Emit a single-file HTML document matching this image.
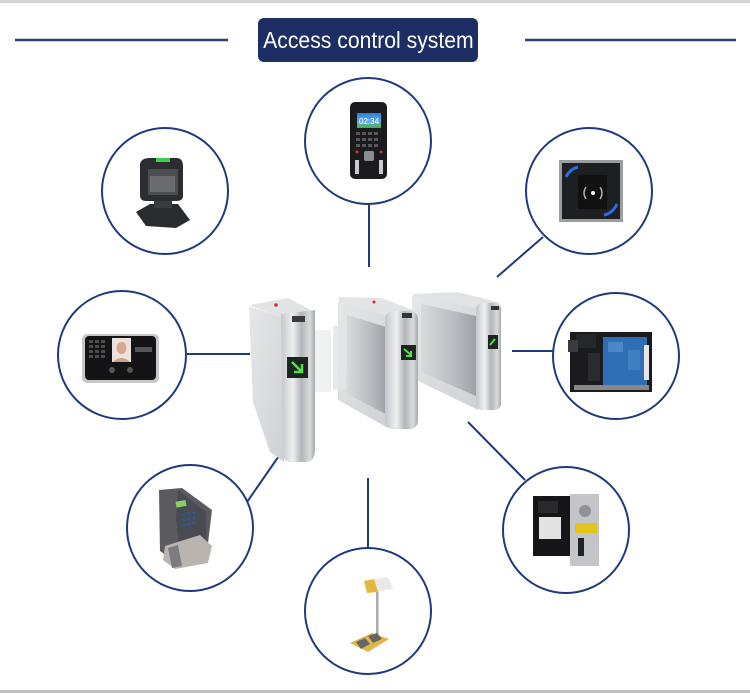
<!DOCTYPE html>
<html><head><meta charset="utf-8">
<style>
html,body{margin:0;padding:0;background:#fff;}
body{width:750px;height:693px;overflow:hidden;position:relative;font-family:"Liberation Sans",Arial,sans-serif;}
svg{position:absolute;left:0;top:0;}
.title{position:absolute;left:258px;top:18px;width:220px;height:44px;background:#1c2e63;border-radius:6px;color:#fff;font-size:23px;line-height:44px;text-align:center;white-space:nowrap;overflow:hidden;}
.title span{display:inline-block;transform:scaleX(0.92);transform-origin:center;margin-left:-20px;margin-right:-20px;}
</style></head><body>
<svg width="750" height="693" viewBox="0 0 750 693" xmlns="http://www.w3.org/2000/svg">
<defs>
<linearGradient id="pil" x1="0" x2="1" y1="0" y2="0">
<stop offset="0" stop-color="#c4c7cb"/><stop offset="0.35" stop-color="#eef0f1"/><stop offset="0.6" stop-color="#b2b5b9"/><stop offset="0.85" stop-color="#d9dadc"/><stop offset="1" stop-color="#a5a8ad"/>
</linearGradient>
<linearGradient id="side" x1="0" x2="1" y1="0" y2="1">
<stop offset="0" stop-color="#e6e7e9"/><stop offset="1" stop-color="#cfd1d4"/>
</linearGradient>
<linearGradient id="inner" x1="0" x2="1" y1="0" y2="0">
<stop offset="0" stop-color="#d8dadc"/><stop offset="0.6" stop-color="#b9bcc0"/><stop offset="1" stop-color="#9ea2a7"/>
</linearGradient>
<linearGradient id="scr" x1="0" x2="0" y1="0" y2="1">
<stop offset="0" stop-color="#2a7fd8"/><stop offset="0.6" stop-color="#5fb0e8"/><stop offset="1" stop-color="#4caf3a"/>
</linearGradient>
</defs>
<!-- page borders -->
<rect x="0" y="0" width="750" height="3" fill="#d4d4d4"/>
<rect x="0" y="690" width="750" height="3" fill="#bdbdbd"/>
<!-- header lines -->
<line x1="15" y1="40" x2="228" y2="40" stroke="#2b3f77" stroke-width="2.5"/>
<line x1="525" y1="40" x2="736" y2="40" stroke="#2b3f77" stroke-width="2.5"/>

<g stroke="#1f3a7c" stroke-width="2" fill="none">
<!-- connectors -->
<line x1="369" y1="205" x2="369" y2="267"/>
<line x1="497" y1="277" x2="543" y2="237"/>
<line x1="187" y1="354" x2="250" y2="354"/>
<line x1="512" y1="351" x2="553" y2="351"/>
<line x1="247" y1="502" x2="281" y2="453"/>
<line x1="468" y1="422" x2="525" y2="480"/>
<line x1="368" y1="478" x2="368" y2="549"/>
<!-- circles -->
<circle cx="368" cy="141" r="63"/>
<circle cx="165" cy="191" r="63"/>
<circle cx="589" cy="191" r="63"/>
<circle cx="122" cy="355" r="64"/>
<circle cx="616" cy="356" r="63"/>
<circle cx="190" cy="528" r="63"/>
<circle cx="566" cy="530" r="63"/>
<circle cx="368" cy="611" r="63"/>
</g>

<!-- C1 keypad reader -->
<rect x="350" y="102" width="37" height="77" rx="5" fill="#1b1b1d"/>
<rect x="357" y="113" width="24" height="15" fill="url(#scr)"/>
<text x="359" y="124" font-size="8" fill="#fff" font-family="Liberation Sans">02:34</text>
<g fill="#55585d">
<rect x="356" y="132" width="4" height="3"/><rect x="362" y="132" width="4" height="3"/><rect x="368" y="132" width="4" height="3"/><rect x="374" y="132" width="4" height="3"/>
<rect x="356" y="138" width="4" height="3"/><rect x="362" y="138" width="4" height="3"/><rect x="368" y="138" width="4" height="3"/><rect x="374" y="138" width="4" height="3"/>
<rect x="356" y="144" width="4" height="3"/><rect x="362" y="144" width="4" height="3"/><rect x="368" y="144" width="4" height="3"/><rect x="374" y="144" width="4" height="3"/>
</g>
<rect x="364" y="151" width="10" height="10" rx="2" fill="#8a8d90"/>
<rect x="355" y="160" width="4" height="14" fill="#c9cbcd"/>
<rect x="379" y="160" width="4" height="14" fill="#c9cbcd"/>
<circle cx="357" cy="152" r="1.5" fill="#d33"/><circle cx="381" cy="152" r="1.5" fill="#d33"/>

<!-- C2 barcode scanner -->
<path d="M136 212 L150 204 L178 204 L190 220 L176 228 L146 226 Z" fill="#2a2b2e"/>
<rect x="154" y="196" width="18" height="12" fill="#3a3b3e"/>
<path d="M140 164 Q141 158 150 158 L176 158 Q183 158 183 166 L183 196 Q183 201 176 201 L146 201 Q140 201 140 195 Z" fill="#2c2d30"/>
<rect x="156" y="158" width="14" height="4" fill="#3ad04a"/>
<rect x="148" y="169" width="30" height="26" fill="#4b4d51"/>
<rect x="150" y="176" width="25" height="16" fill="#6a6c70"/>

<!-- C3 RFID reader -->
<rect x="559" y="160" width="64" height="62" fill="#9c9d9f"/>
<rect x="562" y="163" width="58" height="56" fill="#1e1f22"/>
<rect x="578" y="175" width="29" height="34" fill="#111"/>
<circle cx="593" cy="193" r="2" fill="#fff"/>
<path d="M586 187 Q582 193 586 199 M600 187 Q604 193 600 199" stroke="#aaa" stroke-width="1.5" fill="none"/>
<path d="M566 177 Q570 169 578 167" stroke="#2c6be0" stroke-width="3" fill="none"/>
<path d="M617 204 Q613 213 604 215" stroke="#2c6be0" stroke-width="3" fill="none"/>

<!-- C4 face device -->
<rect x="82" y="334" width="77" height="49" rx="5" fill="#c6c8ca"/>
<rect x="85" y="336" width="71" height="44" rx="4" fill="#141416"/>
<rect x="112" y="338" width="19" height="24" fill="#e9e2dc"/>
<ellipse cx="121.5" cy="348" rx="5" ry="6" fill="#d7a88e"/>
<path d="M113 362 Q121 354 130 362 Z" fill="#caa08a"/>
<g fill="#4a4c50">
<rect x="89" y="340" width="4" height="3"/><rect x="95" y="340" width="4" height="3"/><rect x="101" y="340" width="4" height="3"/>
<rect x="89" y="345" width="4" height="3"/><rect x="95" y="345" width="4" height="3"/><rect x="101" y="345" width="4" height="3"/>
<rect x="89" y="350" width="4" height="3"/><rect x="95" y="350" width="4" height="3"/><rect x="101" y="350" width="4" height="3"/>
<rect x="89" y="355" width="4" height="3"/><rect x="95" y="355" width="4" height="3"/><rect x="101" y="355" width="4" height="3"/>
</g>
<rect x="135" y="347" width="17" height="5" fill="#555"/>
<circle cx="112" cy="370" r="3" fill="#555"/><circle cx="130" cy="370" r="3" fill="#555"/>

<!-- C5 bill acceptor -->
<rect x="570" y="332" width="82" height="60" fill="#1a1b1e"/>
<rect x="576" y="334" width="20" height="14" fill="#26272a"/>
<rect x="603" y="337" width="44" height="48" fill="#2f6db5"/>
<rect x="608" y="342" width="15" height="10" fill="#4a88c8"/>
<rect x="628" y="350" width="12" height="20" fill="#3f7fc0"/>
<rect x="644" y="345" width="5" height="35" fill="#e6e6e6"/>
<rect x="588" y="353" width="12" height="28" fill="#2a2b2e"/>
<rect x="568" y="340" width="10" height="12" fill="#3a3b3f"/>
<rect x="574" y="385" width="75" height="5" fill="#888"/>

<!-- C6 hand reader -->
<path d="M159 490 L182 488 L212 510 L208 543 L170 558 L160 551 Z" fill="#5a5a60"/>
<path d="M178 490 L206 512 L206 546 L180 554 L176 518 Z" fill="#4a4b52"/>
<rect x="176" y="501" width="10" height="6" fill="#8fcf6a" transform="rotate(-10 180 504)"/>
<g fill="#2e55a0">
<circle cx="184" cy="515" r="1.5"/><circle cx="189" cy="514" r="1.5"/><circle cx="194" cy="513" r="1.5"/>
<circle cx="184" cy="520" r="1.5"/><circle cx="189" cy="519" r="1.5"/><circle cx="194" cy="518" r="1.5"/>
<circle cx="184" cy="525" r="1.5"/><circle cx="189" cy="524" r="1.5"/><circle cx="194" cy="523" r="1.5"/>
</g>
<path d="M165 546 L200 535 L212 546 L208 563 L175 569 L163 560 Z" fill="#b9b4b0"/>
<path d="M168 548 L178 545 L182 566 L172 568 Z" fill="#7b7b80"/>

<!-- C7 coin acceptor -->
<rect x="533" y="496" width="38" height="60" fill="#161618"/>
<rect x="539" y="517" width="22" height="22" fill="#e2e2e2"/>
<rect x="538" y="501" width="20" height="12" fill="#2a2a2d"/>
<rect x="570" y="494" width="29" height="72" fill="#c3c5c8"/>
<circle cx="585" cy="511" r="6" fill="#8d9094"/>
<rect x="575" y="523" width="22" height="10" fill="#e3c41c"/>
<rect x="578" y="538" width="6" height="18" fill="#222"/>

<!-- C8 stand -->
<path d="M364 581 L388 577 L393 589 L367 593 Z" fill="#e9e9ea"/>
<path d="M364 581 L374 579 L378 592 L367 593 Z" fill="#e2b93a"/>
<rect x="376" y="592" width="2.5" height="45" fill="#a9abad"/>
<path d="M350 643 L372 633 L389 639 L368 652 Z" fill="#e0b84a"/>
<path d="M356 642 L365 638 L370 644 L361 649 Z" fill="#666"/>
<path d="M368 636 L377 633 L382 639 L373 643 Z" fill="#666"/>

<!-- Turnstiles -->
<!-- right unit -->
<polygon points="412,294 458,292 501,303 478,308 418,300" fill="#e2e3e5"/>
<polygon points="412,296 478,308 478,410 412,378" fill="url(#side)"/>
<polygon points="421,304 476,316 476,396 421,372" fill="url(#inner)"/>
<rect x="476" y="303" width="25" height="107" rx="6" fill="url(#pil)"/>
<rect x="488" y="335" width="10" height="14" fill="#1d2520"/>
<path d="M490 345 L495 339" stroke="#4fe04a" stroke-width="2"/>
<rect x="491" y="306" width="8" height="4" fill="#333"/>
<!-- middle unit -->
<polygon points="338,297 382,298 418,312 388,316 340,305" fill="#e3e4e6"/>
<polygon points="338,302 388,316 388,428 338,400" fill="url(#side)"/>
<polygon points="347,315 386,327 386,414 347,394" fill="url(#inner)"/>
<rect x="385" y="311" width="33" height="118" rx="8" fill="url(#pil)"/>
<rect x="401" y="345" width="15" height="15" fill="#1d2520"/>
<path d="M404 349 L411 355 M411 351 L411 356 L406 356" stroke="#4fe04a" stroke-width="2" fill="none"/>
<rect x="402" y="313" width="10" height="5" fill="#333"/>
<circle cx="374" cy="302" r="1.5" fill="#c33"/>
<!-- glass panels -->
<rect x="314" y="330" width="17" height="62" fill="#eceded" opacity="0.85"/>
<rect x="333" y="326" width="13" height="64" fill="#e4e5e6" opacity="0.85"/>
<!-- left unit -->
<polygon points="249,305 288,298 315,312 282,318" fill="#e2e3e5"/>
<polygon points="249,306 283,318 284,462 270,452 253,402" fill="url(#side)"/>
<path d="M281 314 L315 310 L315 450 Q315 462 305 462 L290 462 Q283 462 283 452 Z" fill="url(#pil)"/>
<rect x="287" y="357" width="21" height="21" fill="#1d2520"/>
<path d="M292 362 L301 371 M302 364 L302 372 L294 372" stroke="#4fe04a" stroke-width="2.5" fill="none"/>
<rect x="292" y="316" width="13" height="6" fill="#3a3b3e"/>
<circle cx="276" cy="305" r="1.8" fill="#c33"/>
</svg>
<div class="title"><span>Access control system</span></div>
</body></html>
